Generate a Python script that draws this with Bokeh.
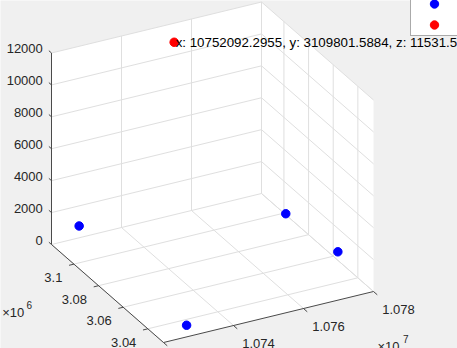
import numpy as np
from bokeh.plotting import figure
from bokeh.models import Range1d, ColumnDataSource, Legend, LegendItem
from bokeh.core.properties import value
from bokeh.embed import file_html
from bokeh.resources import INLINE

# ---------------- data ----------------
blue_x = [10727900.0, 10726600.0, 10777240.0, 10779160.0]
blue_y = [3118200.0, 3027300.0, 3090660.0, 3053840.0]
blue_z = [740.0, 730.0, 740.0, 740.0]

red_x = [10752092.2955]
red_y = [3109801.5884]
red_z = [11531.5]
tip_text = ["x: 10752092.2955, y: 3109801.5884, z: 11531.5"]

x_lim = [1.072e7, 1.078e7]
y_lim = [3.0273e6, 3.1182e6]
z_lim = [0.0, 12000.0]

x_ticks = [1.072e7, 1.074e7, 1.076e7, 1.078e7]
x_tick_labels = ["", "1.074", "1.076", "1.078"]
y_ticks = [3.04e6, 3.06e6, 3.08e6, 3.10e6]
y_tick_labels = ["3.04", "3.06", "3.08", "3.1"]
z_ticks = [0, 2000, 4000, 6000, 8000, 10000, 12000]
z_tick_labels = ["0", "2000", "4000", "6000", "8000", "10000", "12000"]

x_exp = "7"
y_exp = "6"
y_label = "Y轴坐标"
series_names = ["data1", "data2"]

# ---------------- 3D view (orthographic projection, pixel basis) ----------------
W, H = 457, 348
ORIGIN = np.array([163.0, 6.0])      # screen position of (xmin, ymin, zmin)
EX = np.array([210.0, 51.0])         # full x range
EY = np.array([-112.0, 98.0])        # full y range
EZ = np.array([0.0, 191.5])          # full z range


def proj(x, y, z):
    x = np.asarray(x, float); y = np.asarray(y, float); z = np.asarray(z, float)
    fx = (x - x_lim[0]) / (x_lim[1] - x_lim[0])
    fy = (y - y_lim[0]) / (y_lim[1] - y_lim[0])
    fz = (z - z_lim[0]) / (z_lim[1] - z_lim[0])
    sx = ORIGIN[0] + EX[0] * fx + EY[0] * fy + EZ[0] * fz
    sy = ORIGIN[1] + EX[1] * fx + EY[1] * fy + EZ[1] * fz
    return sx, sy


def seg(p0, p1):
    a = proj(*[[v] for v in p0]); b = proj(*[[v] for v in p1])
    return [float(a[0][0]), float(b[0][0])], [float(a[1][0]), float(b[1][0])]


x0, x1 = x_lim; y0, y1 = y_lim; z0, z1 = z_lim

p = figure(width=W, height=H, x_range=Range1d(0, W), y_range=Range1d(0, H),
           x_axis_type=None, y_axis_type=None, toolbar_location=None,
           output_backend="svg", min_border=0,
           background_fill_color="#f0f0f0", border_fill_color="#f0f0f0",
           outline_line_color=None)
p.grid.visible = False

# white back planes
corners = [(x0, y1, z0), (x0, y1, z1), (x1, y1, z1), (x1, y0, z1), (x1, y0, z0), (x0, y0, z0)]
cx, cy = proj([c[0] for c in corners], [c[1] for c in corners], [c[2] for c in corners])
p.patch(list(cx), list(cy), fill_color="white", line_color=None)

# grid lines
gxs, gys = [], []
for xt in x_ticks:
    for a, b in [((xt, y0, z0), (xt, y1, z0)), ((xt, y1, z0), (xt, y1, z1))]:
        sx, sy = seg(a, b); gxs.append(sx); gys.append(sy)
for yt in y_ticks:
    for a, b in [((x0, yt, z0), (x1, yt, z0)), ((x1, yt, z0), (x1, yt, z1))]:
        sx, sy = seg(a, b); gxs.append(sx); gys.append(sy)
for zt in z_ticks:
    for a, b in [((x0, y1, zt), (x1, y1, zt)), ((x1, y0, zt), (x1, y1, zt))]:
        sx, sy = seg(a, b); gxs.append(sx); gys.append(sy)
p.multi_line(gxs, gys, line_color="#dfdfdf", line_width=1)

# axis lines
AX = "#4a4a4a"
axs, ays = [], []
for a, b in [((x0, y1, z0), (x0, y1, z1)), ((x0, y1, z0), (x0, y0, z0)), ((x0, y0, z0), (x1, y0, z0))]:
    sx, sy = seg(a, b); axs.append(sx); ays.append(sy)
p.multi_line(axs, ays, line_color=AX, line_width=1)

# tick marks
def unit(v):
    return v / np.hypot(*v)

txs, tys = [], []
dz = unit(EY) * 3.5          # z ticks point toward +y
for zt in z_ticks:
    sx, sy = proj([x0], [y1], [zt]); bx, by = float(sx[0]), float(sy[0])
    txs.append([bx, bx + dz[0]]); tys.append([by, by + dz[1]])
dy = unit(-EX) * 5.0         # y ticks point toward -x
for yt in y_ticks:
    sx, sy = proj([x0], [yt], [z0]); bx, by = float(sx[0]), float(sy[0])
    txs.append([bx, bx + dy[0]]); tys.append([by, by + dy[1]])
dx = unit(-EY) * 5.0         # x ticks point toward -y
for xt in x_ticks:
    sx, sy = proj([xt], [y0], [z0]); bx, by = float(sx[0]), float(sy[0])
    txs.append([bx, bx + dx[0]]); tys.append([by, by + dx[1]])
p.multi_line(txs, tys, line_color=AX, line_width=1)

FONT_NAME = "Liberation Sans"
FONT = value(FONT_NAME)
TC = "#262626"
FS = "13px"

# tick labels
zx, zy = proj([x0] * len(z_ticks), [y1] * len(z_ticks), z_ticks)
p.text(x=list(zx - 8.7), y=list(zy + 4.4), text=z_tick_labels, text_align="right",
       text_baseline="middle", text_font=FONT, text_font_size=FS, text_color=TC)
yx, yy = proj([x0] * len(y_ticks), y_ticks, [z0] * len(y_ticks))
p.text(x=list(yx - 11.5), y=list(yy - 13.7), text=y_tick_labels, text_align="right",
       text_baseline="middle", text_font=FONT, text_font_size=FS, text_color=TC)
xx, xy = proj(x_ticks, [y0] * len(x_ticks), [z0] * len(x_ticks))
p.text(x=list(xx + 8.7), y=list(xy - 18.0), text=x_tick_labels, text_align="left",
       text_baseline="middle", text_font=FONT, text_font_size=FS, text_color=TC)

# exponent labels
ax_, ay_ = proj([x0], [y1], [z0])
cx_, cy_ = proj([x1], [y0], [z0])
p.text(x=[float(ax_[0]) - 49.3, float(cx_[0]) + 4.0], y=[float(ay_[0]) - 68.3, float(cy_[0]) - 54.7],
       text=["×10", "×10"], text_align="left", text_baseline="alphabetic",
       text_font=FONT, text_font_size=FS, text_color=TC)
p.text(x=[float(ax_[0]) - 25.0, float(cx_[0]) + 29.5], y=[float(ay_[0]) - 60.0, float(cy_[0]) - 47.5],
       text=[y_exp, x_exp], text_align="left", text_baseline="alphabetic",
       text_font=FONT, text_font_size="10px", text_color=TC)

# y axis label (mostly below the visible area)
p.text(x=[float(ax_[0]) - 9.0], y=[float(ay_[0]) - 101.5], text=[y_label], text_align="left",
       text_baseline="top", text_font=value("Noto Sans CJK SC"), text_font_size=FS, text_color=TC)

# data points
bx_, by_ = proj(blue_x, blue_y, blue_z)
rx_, ry_ = proj(red_x, red_y, red_z)
rb = p.scatter(list(bx_), list(by_), size=8.5, marker="circle", fill_color="#0000ff", line_color="#0000ff")
rr = p.scatter(list(rx_), list(ry_), size=8.5, marker="circle", fill_color="#ff0000", line_color="#ff0000")

# data tip text
p.text(x=list(rx_), y=list(ry_), text=tip_text, x_offset=1.5, y_offset=0.6,
       text_align="left", text_baseline="middle", text_font=FONT, text_font_size="13.3px",
       text_color="black")

legend = Legend(items=[LegendItem(label=series_names[0], renderers=[rb]),
                       LegendItem(label=series_names[1], renderers=[rr])],
                location=(410, 312.3), padding=0, spacing=-5, glyph_height=21, glyph_width=46,
                label_standoff=6, margin=0, border_line_color="#555555", border_line_width=1,
                background_fill_color="white", background_fill_alpha=1.0,
                label_text_font=FONT_NAME, label_text_font_size=FS, label_text_color=TC)
p.add_layout(legend)

open("out.html", "w").write(file_html(p, INLINE))
